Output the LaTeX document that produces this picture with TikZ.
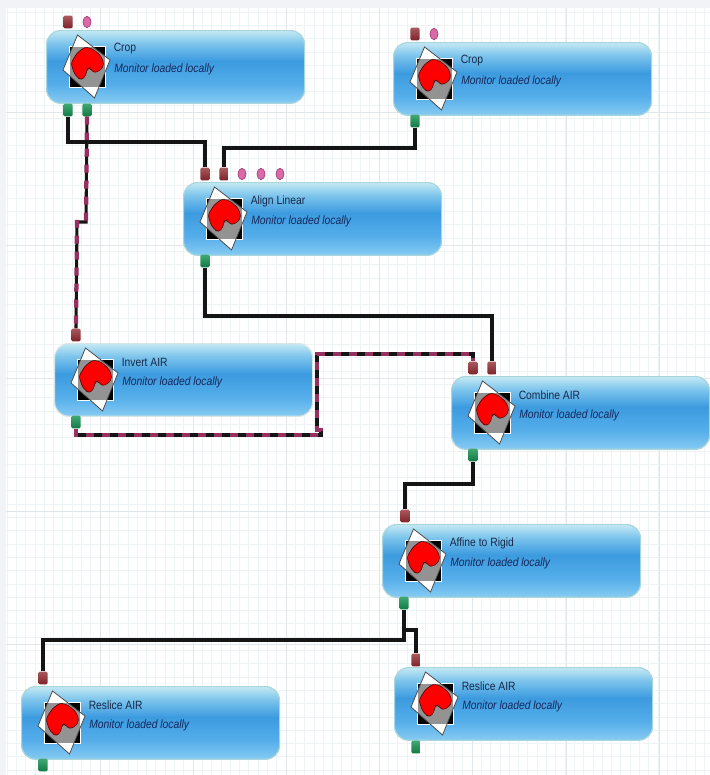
\documentclass[tikz,border=0pt]{standalone}
\usepackage{fontspec}
\setmainfont{Liberation Sans}
\newfontfamily\titlefont[FakeStretch=0.86]{Liberation Sans}
\usetikzlibrary{calc,shapes.geometric}
\definecolor{gridminor}{HTML}{EEF3F6}
\definecolor{gridmajor}{HTML}{E0E6E9}
\definecolor{wire}{HTML}{151515}
\definecolor{dashwire}{HTML}{96305F}
\definecolor{boxbot}{HTML}{86CBF2}
\definecolor{boxlow}{HTML}{55AEEA}
\definecolor{boxmid}{HTML}{3C9BDF}
\definecolor{boxhi}{HTML}{7CC4EC}
\definecolor{boxtop}{HTML}{C4E9F4}
\definecolor{redtop}{HTML}{A85A5E}
\definecolor{redbot}{HTML}{7E2228}
\definecolor{greentop}{HTML}{3FA873}
\definecolor{greenbot}{HTML}{127A45}
\definecolor{pinkfill}{HTML}{D86AA8}
\definecolor{pinkedge}{HTML}{A83A7C}
\definecolor{titleink}{HTML}{16284A}
\definecolor{monink}{HTML}{14285C}
\definecolor{marginband}{HTML}{F1F3F7}
\pgfdeclareverticalshading{boxblue}{100bp}{
  color(0bp)=(boxbot);
  color(25bp)=(boxbot);
  color(38bp)=(boxlow);
  color(54bp)=(boxmid);
  color(66bp)=(boxhi);
  color(75bp)=(boxtop);
  color(100bp)=(boxtop)}
\definecolor{B4DCE4}{HTML}{A8D6DC}
\definecolor{D8E6E4}{HTML}{D8E6E4}
\tikzset{
  moduleblock/.style={draw=#1,line width=0.9pt,shading=boxblue,rounded corners=10.5pt,
     minimum width=193.5pt,minimum height=54.5pt,inner sep=0pt,anchor=north west},
  titletext/.style={anchor=west,inner sep=0pt,text=titleink,font=\titlefont\fontsize{9pt}{10pt}\selectfont},
  monitortext/.style={anchor=west,inner sep=0pt,text=monink,font=\titlefont\itshape\fontsize{9pt}{10pt}\selectfont},
  redport/.style={draw=none,rounded corners=1pt,minimum width=7pt,minimum height=9.5pt,inner sep=0pt,
     top color=redtop,bottom color=redbot},
  greenport/.style={draw=none,rounded corners=1pt,minimum width=7pt,minimum height=9.5pt,inner sep=0pt,
     top color=greentop,bottom color=greenbot},
  pinkport/.style={ellipse,draw=pinkedge,line width=0.5pt,fill=pinkfill,minimum width=6pt,minimum height=8.5pt,inner sep=0pt},
  plainwire/.style={draw=wire,line width=2.7pt,line join=miter},
  coredwire/.style={draw=wire,line width=2.3pt,line join=miter},
  dashover/.style={draw=dashwire,line width=3.2pt,dash pattern=on 6pt off 6pt},
}
% module: name, left x, top y, title
\newcommand{\modblock}[5][B4DCE4]{%
  \node[moduleblock=#1] (#2) at (#3,#4) {};
  \begin{scope}[shift={(#3+41,#4+36)}]
    \fill[white] (-9.5,-31) -- (23,-6) -- (7.5,32) -- (-24,4) -- cycle;
    \fill[black] (-18,-20) rectangle (18,21);
    \begin{scope}
      \clip (-18,-20) rectangle (18,21);
      \fill[gray!85] (-9.5,-31) -- (23,-6) -- (7.5,32) -- (-24,4) -- cycle;
    \end{scope}
    \draw[white,line width=0.6pt] (-18,-20) rectangle (18,21);
    \fill[white] (-9.5,-31) -- (3.5,-20.3) -- (-13,-20.3) -- cycle;
    \draw[black!70,line width=0.6pt] (-9.5,-31) -- (23,-6) -- (7.5,32) -- (-24,4) -- cycle;
    \fill[red,draw=black!75!red,line width=0.4pt,rounded corners=2pt]
       (-16,-3) -- (-10,-13) -- (-2,-19) -- (6,-17) -- (14,-10) -- (17,-2) -- (14,4)
       -- (7,7) -- (3,2) -- (0,3) -- (-1,9) -- (-5,14) -- (-9,12) -- (-13,7) -- cycle;
  \end{scope}
  \node[titletext] (#2title) at (#3+67.5,#4+19) {#5};
  \node[monitortext] (#2mon) at (#3+68,#4+39) {Monitor loaded locally};
}
\begin{document}
\begin{tikzpicture}[x=0.75pt,y=-0.75pt]
\useasboundingbox (0,0) rectangle (710,775);
\fill[white] (0,0) rectangle (710,775);
% grid
\foreach \g in {0,...,75} {\draw[gridminor,line width=0.6pt] ({7+9.3*\g},8) -- ({7+9.3*\g},775);}
\foreach \g in {0,...,57} {\draw[gridminor,line width=0.6pt] (6,{12+13.3*\g}) -- (710,{12+13.3*\g});}
\foreach \g in {100,193,286,379,472,566,659} {\draw[gridmajor,line width=0.7pt] (\g,8) -- (\g,775);}
\foreach \g in {112,245,378,511,644} {\draw[gridmajor,line width=0.7pt] (6,\g) -- (710,\g);}
\fill[marginband] (0,0) rectangle (710,8);
\fill[marginband] (0,0) rectangle (6,775);
% modules
\modblock{cropa}{46}{30}{Crop}
\modblock{cropb}{393}{42}{Crop}
\modblock{align}{183}{182}{Align Linear}
\modblock[D8E6E4]{invert}{54}{343}{Invert AIR}
\modblock{combine}{451}{376}{Combine AIR}
\modblock{affine}{382}{524}{Affine to Rigid}
\modblock{reslicea}{394}{667}{Reslice AIR}
\modblock{resliceb}{21}{686}{Reslice AIR}
% wire bends
\coordinate (ba) at (205,142);
\coordinate (bb) at (224,148);
\coordinate (bc) at (492,316);
\coordinate (bd) at (405,484);
\coordinate (be) at (43,640);
\coordinate (bf) at (416,630);
\coordinate (bga) at (86,222);
\coordinate (bgb) at (77,222);
\coordinate (bha) at (321,435);
\coordinate (bhb) at (317,430);
\coordinate (bhc) at (317,354);
\coordinate (bhd) at (473,354);
% ports
\node[redport] (cropaIn) at (68,22) {};
\node[pinkport] (cropaP) at (87,22) {};
\node[greenport] (cropaOutA) at (68,110) {};
\node[greenport] (cropaOutB) at (87,110) {};
\node[redport] (cropbIn) at (415,34) {};
\node[pinkport] (cropbP) at (434,34) {};
\node[greenport] (cropbOut) at (415,121) {};
\node[redport] (alignInA) at (205,174) {};
\node[redport] (alignInB) at (224,174) {};
\node[pinkport] (alignPa) at (242,174) {};
\node[pinkport] (alignPb) at (261,174) {};
\node[pinkport] (alignPc) at (280,174) {};
\node[greenport] (alignOut) at (205,261) {};
\node[redport] (invertIn) at (76,335) {};
\node[greenport] (invertOut) at (76,422) {};
\node[redport] (combineInA) at (473,368) {};
\node[redport] (combineInB) at (492,368) {};
\node[greenport] (combineOut) at (473,455) {};
\node[redport] (affineIn) at (405,516) {};
\node[greenport] (affineOut) at (404,603) {};
\node[redport] (resliceaIn) at (416,660) {};
\node[greenport] (resliceaOut) at (416,747) {};
\node[redport] (slicebIn) at (43,678) {};
\node[greenport] (slicebOut) at (43,765) {};
% dashed wires
\path[coredwire] (cropaOutB.south) -- (bga) -- (bgb) -- (invertIn.north);
\path[dashover] (cropaOutB.south) -- (bga) -- (bgb) -- (invertIn.north);
\path[coredwire] (invertOut.south) |- (bha) -- (bha |- bhb) -- (bhb) -- (bhc) -- (bhd) -- (combineInA.north);
\path[dashover] (invertOut.south) |- (bha) -- (bha |- bhb) -- (bhb) -- (bhc) -- (bhd) -- (combineInA.north);
% solid wires
\path[plainwire] (cropaOutA.south) |- (ba) -- (alignInA.north);
\path[plainwire] (cropbOut.south) |- (bb) -- (alignInB.north);
\path[plainwire] (alignOut.south) |- (bc) -- (combineInB.north);
\path[plainwire] (combineOut.south) |- (bd) -- (affineIn.north);
\path[plainwire] (affineOut.south) |- (be) -- (slicebIn.north);
\path[plainwire] (affineOut.south) |- (bf) -- (resliceaIn.north);
\end{tikzpicture}
\end{document}
